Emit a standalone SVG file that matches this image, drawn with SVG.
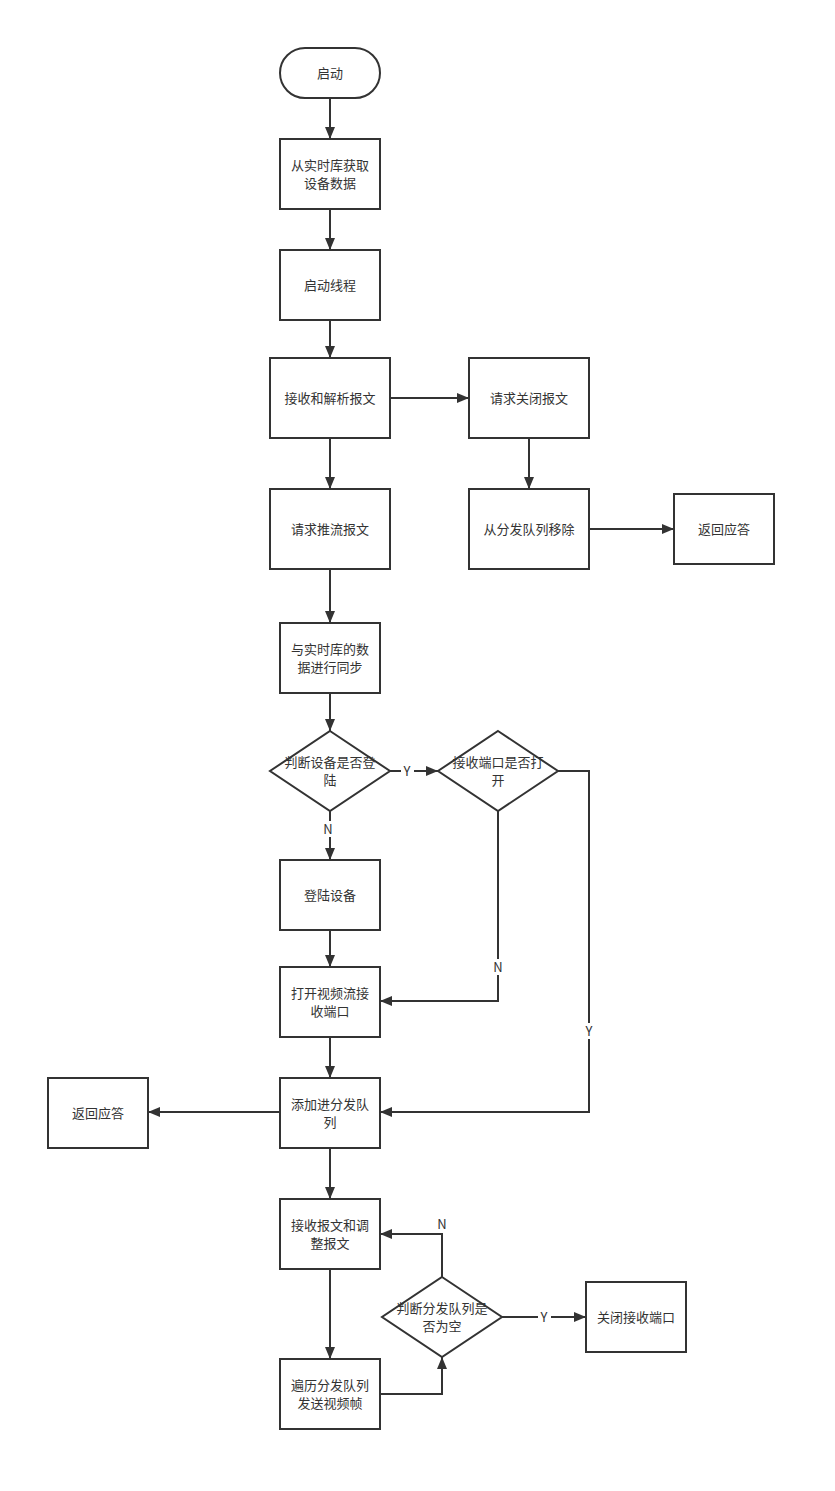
<svg xmlns="http://www.w3.org/2000/svg" width="835" height="1491" viewBox="0 0 835 1491">
<defs>
<marker id="ah" viewBox="0 0 12 10" refX="12" refY="5" markerWidth="12" markerHeight="10" markerUnits="userSpaceOnUse" orient="auto">
<path d="M0,0 L12,5 L0,10 Z" fill="#333"/>
</marker>
<style>
.n{fill:#fff;stroke:#333;stroke-width:2}
.t{font-family:"Noto Sans CJK SC","Liberation Sans",sans-serif;font-size:13px;fill:#333;text-anchor:middle}
.c{fill:none;stroke:#333;stroke-width:2;marker-end:url(#ah)}
.lb{fill:#fff}
</style>
</defs>
<rect width="835" height="1491" fill="#fff"/>
<g id="connectors">
<path class="c" d="M330,98 V139"/>
<path class="c" d="M330,209 V250"/>
<path class="c" d="M330,320 V358"/>
<path class="c" d="M390,398 H469"/>
<path class="c" d="M330,438 V489"/>
<path class="c" d="M529,438 V489"/>
<path class="c" d="M589,529 H674"/>
<path class="c" d="M330,569 V623"/>
<path class="c" d="M330,693 V731"/>
<path class="c" d="M390,771 H438"/>
<path class="c" d="M330,811 V860"/>
<path class="c" d="M330,930 V967"/>
<path class="c" d="M498,811 V1001 H380"/>
<path class="c" d="M558,771 H589 V1112 H380"/>
<path class="c" d="M330,1037 V1078"/>
<path class="c" d="M280,1112 H148"/>
<path class="c" d="M330,1148 V1199"/>
<path class="c" d="M330,1269 V1359"/>
<path class="c" d="M380,1394 H442 V1357"/>
<path class="c" d="M442,1277 V1234 H380"/>
<path class="c" d="M502,1317 H586"/>
<g id="labels">
<rect class="lb" x="401" y="763" width="13" height="16"/><text class="t" x="407" y="776">Y</text>
<rect class="lb" x="322" y="821" width="13" height="16"/><text class="t" x="328" y="834">N</text>
<rect class="lb" x="492" y="959" width="13" height="16"/><text class="t" x="498" y="972">N</text>
<rect class="lb" x="583" y="1023" width="13" height="16"/><text class="t" x="589" y="1036">Y</text>
<text class="t" x="442" y="1229">N</text>
<rect class="lb" x="538" y="1309" width="13" height="16"/><text class="t" x="544" y="1322">Y</text>
</g>
</g>
<g id="start"><rect class="n" x="280" y="48" width="100" height="50" rx="25"/><text class="t" x="330" y="78">启动</text></g>
<g id="n1"><rect class="n" x="280" y="139" width="100" height="70"/><text class="t" x="330" y="170">从实时库获取</text><text class="t" x="330" y="188">设备数据</text></g>
<g id="n2"><rect class="n" x="280" y="250" width="100" height="70"/><text class="t" x="330" y="290">启动线程</text></g>
<g id="n3"><rect class="n" x="270" y="358" width="120" height="80"/><text class="t" x="330" y="403">接收和解析报文</text></g>
<g id="n4"><rect class="n" x="469" y="358" width="120" height="80"/><text class="t" x="529" y="403">请求关闭报文</text></g>
<g id="n5"><rect class="n" x="270" y="489" width="120" height="80"/><text class="t" x="330" y="534">请求推流报文</text></g>
<g id="n6"><rect class="n" x="469" y="489" width="120" height="80"/><text class="t" x="529" y="534">从分发队列移除</text></g>
<g id="n7"><rect class="n" x="674" y="494" width="100" height="70"/><text class="t" x="724" y="534">返回应答</text></g>
<g id="n8"><rect class="n" x="280" y="623" width="100" height="70"/><text class="t" x="330" y="654">与实时库的数</text><text class="t" x="330" y="672">据进行同步</text></g>
<g id="d1"><path class="n" d="M330,731 L390,771 L330,811 L270,771 Z"/><text class="t" x="330" y="767">判断设备是否登</text><text class="t" x="330" y="785">陆</text></g>
<g id="d2"><path class="n" d="M498,731 L558,771 L498,811 L438,771 Z"/><text class="t" x="498" y="767">接收端口是否打</text><text class="t" x="498" y="785">开</text></g>
<g id="n9"><rect class="n" x="280" y="860" width="100" height="70"/><text class="t" x="330" y="900">登陆设备</text></g>
<g id="n10"><rect class="n" x="280" y="967" width="100" height="70"/><text class="t" x="330" y="998">打开视频流接</text><text class="t" x="330" y="1016">收端口</text></g>
<g id="n11"><rect class="n" x="280" y="1078" width="100" height="70"/><text class="t" x="330" y="1109">添加进分发队</text><text class="t" x="330" y="1127">列</text></g>
<g id="n12"><rect class="n" x="48" y="1078" width="100" height="70"/><text class="t" x="98" y="1118">返回应答</text></g>
<g id="n13"><rect class="n" x="280" y="1199" width="100" height="70"/><text class="t" x="330" y="1230">接收报文和调</text><text class="t" x="330" y="1248">整报文</text></g>
<g id="d3"><path class="n" d="M442,1277 L502,1317 L442,1357 L382,1317 Z"/><text class="t" x="442" y="1313">判断分发队列是</text><text class="t" x="442" y="1331">否为空</text></g>
<g id="n14"><rect class="n" x="586" y="1282" width="100" height="70"/><text class="t" x="636" y="1322">关闭接收端口</text></g>
<g id="n15"><rect class="n" x="280" y="1359" width="100" height="70"/><text class="t" x="330" y="1390">遍历分发队列</text><text class="t" x="330" y="1408">发送视频帧</text></g>
</svg>
